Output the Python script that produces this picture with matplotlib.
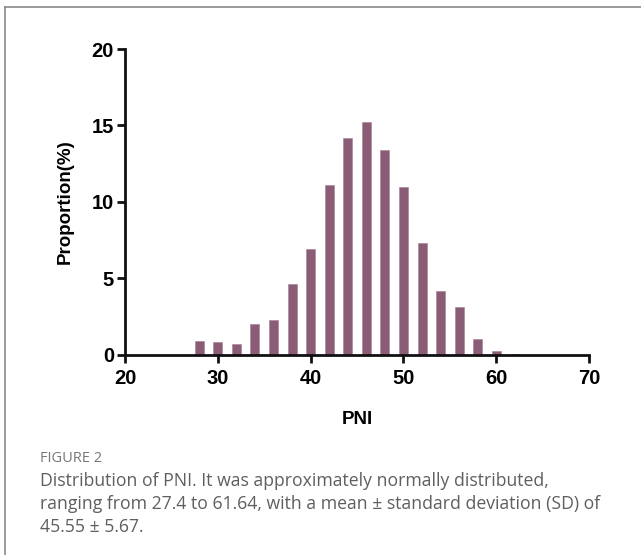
import matplotlib.pyplot as plt
from matplotlib.lines import Line2D

# PNI bins (bar centres) and proportion (%)
pni_bins = [28, 30, 32, 34, 36, 38, 40, 42, 44, 46, 48, 50, 52, 54, 56, 58, 60, 62]
proportion = [0.93, 0.85, 0.70, 2.03, 2.27, 4.66, 6.91, 11.13, 14.18, 15.25,
              13.40, 10.96, 7.32, 4.20, 3.15, 1.03, 0.24, 0.05]
x_ticks = [20, 30, 40, 50, 60, 70]
y_ticks = [0, 5, 10, 15, 20]

caption_title = "FIGURE 2"
caption_text = ("Distribution of PNI. It was approximately normally distributed,\n"
                "ranging from 27.4 to 61.64, with a mean \u00b1 standard deviation (SD) of\n"
                "45.55 \u00b1 5.67.")

fig = plt.figure(figsize=(6.41, 5.55), dpi=100)
ax = fig.add_axes([0.195, 0.3604, 0.724, 0.5513])

ax.bar(pni_bins, proportion, width=0.97, color='#8b5c75',
       edgecolor='#a57f92', linewidth=0.4, zorder=2)

ax.set_xlim(20, 70)
ax.set_ylim(0, 20)
ax.set_xticks(x_ticks)
ax.set_yticks(y_ticks)

for side in ['top', 'right']:
    ax.spines[side].set_visible(False)
for side in ['left', 'bottom']:
    ax.spines[side].set_linewidth(2)
    ax.spines[side].set_color('#111111')

ax.tick_params(axis='both', width=2, length=6, color='#111111',
               labelsize=14.5)
ax.tick_params(axis='x', pad=4)
ax.tick_params(axis='y', pad=2)
for lab in ax.get_xticklabels() + ax.get_yticklabels():
    lab.set_fontweight('bold')
    lab.set_fontfamily('Liberation Sans')

ax.set_xlabel('PNI', fontsize=13.5, fontweight='bold',
              family='Liberation Sans', labelpad=17)
ax.set_ylabel('Proportion(%)', fontsize=13.5, fontweight='bold',
              family='Liberation Sans', labelpad=13)

# Caption below the chart
fig.text(40 / 641, 1 - 458 / 555, caption_title, fontsize=10.5,
         color='#777777', family='Open Sans', va='center')
fig.text(40 / 641, 1 - 472 / 555, caption_text, fontsize=12.7,
         color='#5f5f5f', family='Open Sans', va='top', linespacing=1.36)

# Thin gray frame on top and left
fig.add_artist(Line2D([5 / 641, 1], [1 - 7 / 555, 1 - 7 / 555],
                      transform=fig.transFigure, color='#8a8a8a', lw=1.2))
fig.add_artist(Line2D([5 / 641, 5 / 641], [0, 1 - 7 / 555],
                      transform=fig.transFigure, color='#8a8a8a', lw=1.2))

fig.savefig('out.png', dpi=100)
